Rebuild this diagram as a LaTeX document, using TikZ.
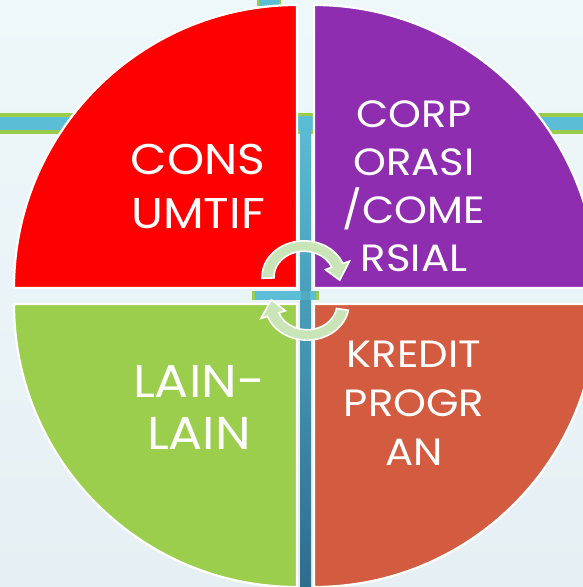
\documentclass[tikz,border=0pt]{standalone}
\usepackage{fontspec}
\setmainfont{Poppins}[FakeStretch=1.1]
\usetikzlibrary{calc}
\definecolor{bgtop}{RGB}{238,247,250}
\definecolor{bgbot}{RGB}{230,239,243}
\definecolor{cred}{RGB}{255,0,0}
\definecolor{cpurple}{RGB}{142,45,175}
\definecolor{corange}{RGB}{211,91,64}
\definecolor{cgreen}{RGB}{156,206,78}
\definecolor{arrowgreen}{RGB}{201,228,183}
\definecolor{barblue}{RGB}{91,190,214}
\definecolor{bardark}{RGB}{46,108,140}
\definecolor{bargreen}{RGB}{155,203,75}
\begin{document}
\begin{tikzpicture}[x=1pt,y=-1pt,
  quad/.style={draw=white,line width=2.2pt,line join=round},
  lbl/.style={text=white,align=center,inner sep=0pt},
  arrowshape/.style={fill=arrowgreen,draw=white,line width=1.6pt,line join=miter}]
\useasboundingbox (0,0) rectangle (583,587);
\clip (0,0) rectangle (583,587);
\shade[top color=bgtop,bottom color=bgbot] (0,0) rectangle (583,587);
% bars behind
\fill[bargreen] (0,113) rectangle (583,134);
\fill[barblue] (0,117) rectangle (583,130);
\fill[bargreen] (257,0) rectangle (281,6);
\fill[barblue] (259,0) rectangle (279,6);
\shade[top color=barblue,bottom color=bardark] (300,113) rectangle (311,587);
\fill[bargreen] (300,113) rectangle (311,116);
\fill[bargreen] (252,291) rectangle (319,300);
\fill[barblue] (255,291) rectangle (316,300);
\fill[barblue!90!black] (301,291) rectangle (310,300);
% quadrants
\path[quad,fill=cred] (297,288) -- (14,288) arc[start angle=180,end angle=270,radius=283] -- cycle;
\path[quad,fill=cpurple] (314,288) -- (314,5) arc[start angle=270,end angle=360,radius=283] -- cycle;
\path[quad,fill=corange] (314,304) -- (597,304) arc[start angle=0,end angle=90,radius=283] -- cycle;
\path[quad,fill=cgreen] (297,304) -- (297,587) arc[start angle=90,end angle=180,radius=283] -- cycle;
% labels
\node[lbl,font=\fontsize{43}{54}\selectfont] (cons) at (198,186) {CONS\\UMTIF};
\node[lbl,font=\fontsize{38}{48}\selectfont] (corp) at (414,186) {CORP\\ORASI\\/COME\\RSIAL};
\node[lbl,font=\fontsize{38}{49}\selectfont] (kredit) at (414,403) {KREDIT\\PROGR\\AN};
\node[lbl,font=\fontsize{46}{52}\selectfont] (lain) at (199,407) {LAIN-\\LAIN};
% circular arrows
\begin{scope}[shift={(304,277)},yscale=0.86]
\coordinate (U) at (0,0);
\path[arrowshape] ($(U)+(178:42)$) arc[start angle=178,end angle=338,radius=42]
  -- ($(U)+(338:49)$) -- ($(U)+(6:36)$) -- ($(U)+(338:23)$) -- ($(U)+(338:30)$)
  arc[start angle=338,end angle=178,radius=30] -- cycle;
\end{scope}
\begin{scope}[shift={(307,304)},yscale=0.86]
\coordinate (L) at (0,0);
\path[arrowshape] ($(L)+(10:42)$) arc[start angle=10,end angle=160,radius=42]
  -- ($(L)+(160:49)$) -- ($(L)+(188:36)$) -- ($(L)+(160:23)$) -- ($(L)+(160:30)$)
  arc[start angle=160,end angle=10,radius=30] -- cycle;
\end{scope}
\end{tikzpicture}
\end{document}
